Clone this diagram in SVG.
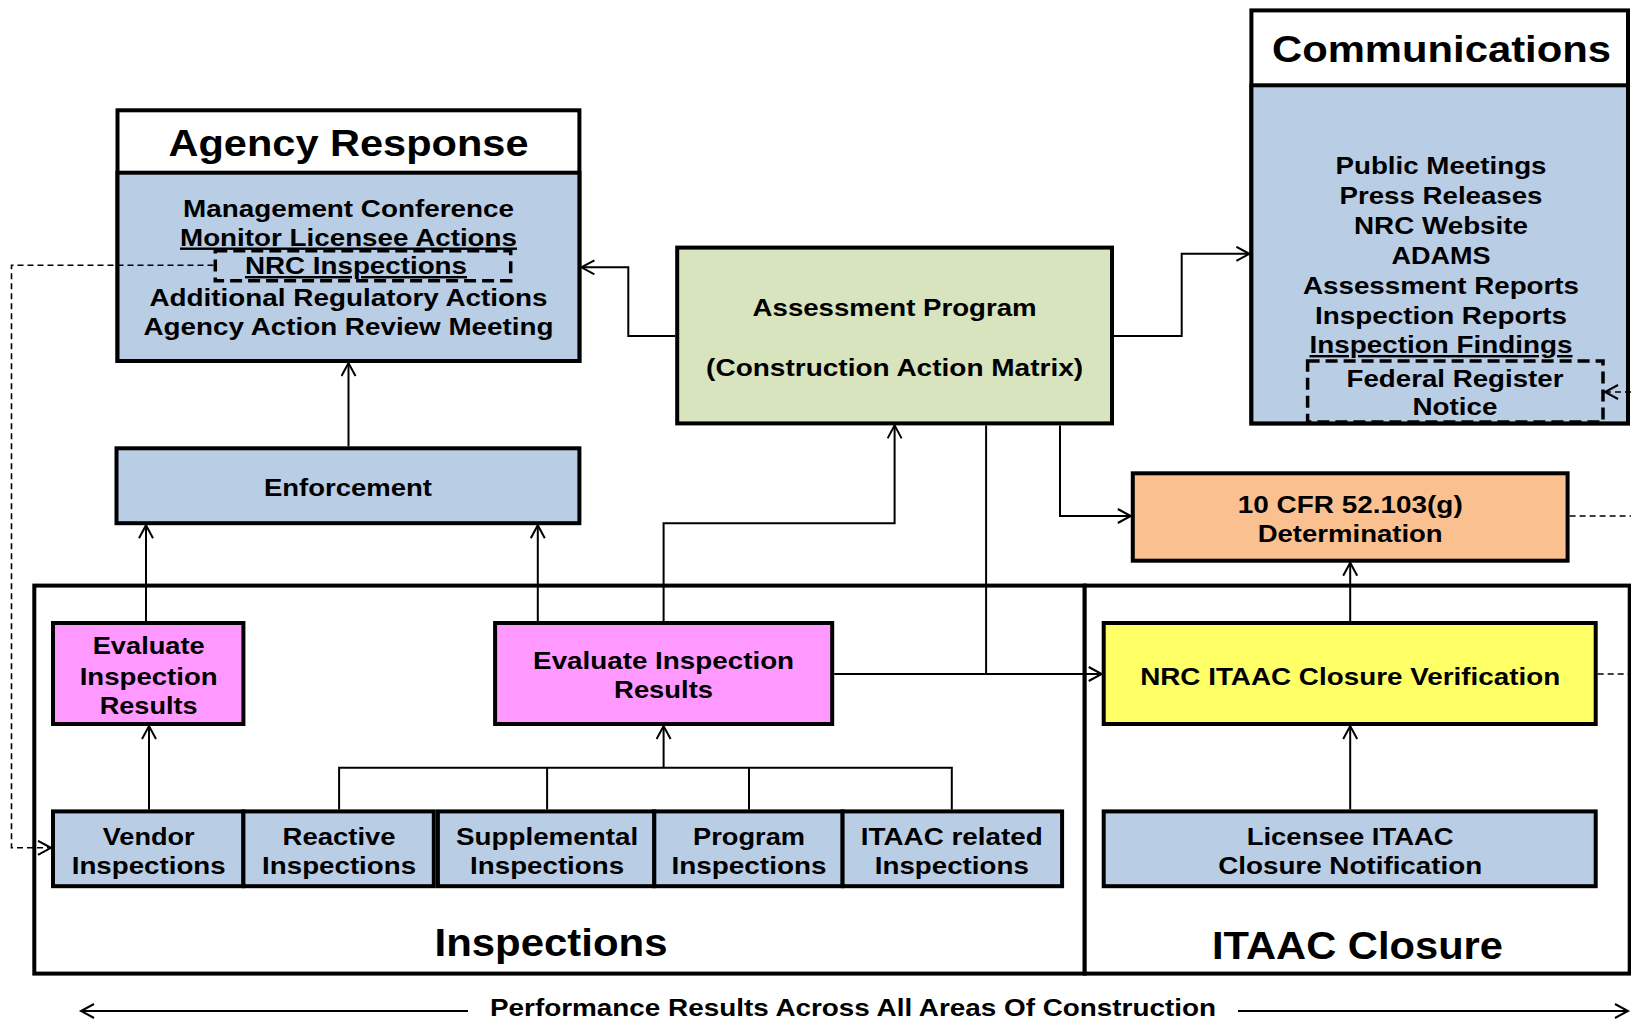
<svg xmlns="http://www.w3.org/2000/svg" width="1631" height="1021" viewBox="0 0 1631 1021">
<defs>
<style>
.t{font-family:"Liberation Sans",Arial,sans-serif;font-weight:bold;fill:#000;text-anchor:middle;font-size:24px}
.h{font-size:37px}
.big{font-size:38px}
.u{text-decoration:underline}
.box{stroke:#000;stroke-width:4}
.blue{fill:#B9CDE5}
.mag{fill:#FF99FF}
.c{fill:none;stroke:#000;stroke-width:2}
.d{fill:none;stroke:#000;stroke-width:1.6;stroke-dasharray:6 4}
.db{fill:none;stroke:#000;stroke-width:3.5;stroke-dasharray:12 6}
</style>
<marker id="a" markerUnits="userSpaceOnUse" markerWidth="18" markerHeight="18" refX="15" refY="8" orient="auto">
<path d="M2,1 L15,8 L2,15" fill="none" stroke="#000" stroke-width="2"/>
</marker>
</defs>
<rect width="1631" height="1021" fill="#fff"/>

<g id="inspections-area">
<rect x="34.3" y="585.6" width="1050.4" height="388" fill="#fff" class="box"/>
<text class="t big" x="551" y="956" textLength="233" lengthAdjust="spacingAndGlyphs">Inspections</text>
</g>
<g id="itaac-closure-area">
<rect x="1084.7" y="585.6" width="545" height="388" fill="#fff" class="box"/>
<text class="t big" x="1357.5" y="959" textLength="291" lengthAdjust="spacingAndGlyphs">ITAAC Closure</text>
</g>

<g id="agency-response">
<rect x="117.5" y="110.3" width="461.9" height="250.7" fill="#fff" class="box"/>
<rect x="117.5" y="172.7" width="461.9" height="188.3" class="box blue"/>
<text class="t h" x="348.5" y="156" textLength="360" lengthAdjust="spacingAndGlyphs">Agency Response</text>
<text class="t" x="348.5" y="216.5" textLength="331" lengthAdjust="spacingAndGlyphs">Management Conference</text>
<text class="t u" x="348.5" y="245.5" textLength="337" lengthAdjust="spacingAndGlyphs">Monitor Licensee Actions</text>
<rect x="215.3" y="250.7" width="295.4" height="30" fill="none" class="db"/>
<text class="t u" x="356" y="274" textLength="222" lengthAdjust="spacingAndGlyphs">NRC Inspections</text>
<text class="t" x="348.5" y="306" textLength="398" lengthAdjust="spacingAndGlyphs">Additional Regulatory Actions</text>
<text class="t" x="348.5" y="335" textLength="410" lengthAdjust="spacingAndGlyphs">Agency Action Review Meeting</text>
</g>

<g id="assessment-program">
<rect x="677.2" y="247.6" width="434.8" height="175.8" fill="#D7E4BD" class="box"/>
<text class="t" x="894.6" y="316" textLength="284" lengthAdjust="spacingAndGlyphs">Assessment Program</text>
<text class="t" x="894.6" y="376" textLength="377" lengthAdjust="spacingAndGlyphs">(Construction Action Matrix)</text>
</g>

<g id="communications">
<rect x="1251.4" y="10.4" width="376.6" height="413" fill="#fff" class="box"/>
<rect x="1251.4" y="85.3" width="376.6" height="338.1" class="box blue"/>
<text class="t h" x="1441.5" y="61.7" textLength="339" lengthAdjust="spacingAndGlyphs">Communications</text>
<text class="t" x="1441" y="174" textLength="211" lengthAdjust="spacingAndGlyphs">Public Meetings</text>
<text class="t" x="1441" y="204" textLength="203" lengthAdjust="spacingAndGlyphs">Press Releases</text>
<text class="t" x="1441" y="234" textLength="174" lengthAdjust="spacingAndGlyphs">NRC Website</text>
<text class="t" x="1441" y="264" textLength="99" lengthAdjust="spacingAndGlyphs">ADAMS</text>
<text class="t" x="1441" y="294" textLength="276" lengthAdjust="spacingAndGlyphs">Assessment Reports</text>
<text class="t" x="1441" y="324" textLength="252" lengthAdjust="spacingAndGlyphs">Inspection Reports</text>
<text class="t u" x="1441" y="353" textLength="263" lengthAdjust="spacingAndGlyphs">Inspection Findings</text>
<rect x="1307.6" y="361" width="295.4" height="61" fill="none" class="db"/>
<text class="t" x="1455" y="387" textLength="217" lengthAdjust="spacingAndGlyphs">Federal Register</text>
<text class="t" x="1455" y="415" textLength="85" lengthAdjust="spacingAndGlyphs">Notice</text>
</g>

<g id="enforcement">
<rect x="116.5" y="448.3" width="462.9" height="74.9" class="box blue"/>
<text class="t" x="348" y="496" textLength="168" lengthAdjust="spacingAndGlyphs">Enforcement</text>
</g>

<g id="cfr-determination">
<rect x="1132.8" y="473.3" width="434.8" height="87.4" fill="#FAC090" class="box"/>
<text class="t" x="1350.2" y="513" textLength="225" lengthAdjust="spacingAndGlyphs">10 CFR 52.103(g)</text>
<text class="t" x="1350.2" y="542" textLength="185" lengthAdjust="spacingAndGlyphs">Determination</text>
</g>

<g id="evaluate-left">
<rect x="53" y="623" width="190.4" height="101" class="box mag"/>
<text class="t" x="148.7" y="654.3" textLength="112" lengthAdjust="spacingAndGlyphs">Evaluate</text>
<text class="t" x="148.7" y="684.5" textLength="138" lengthAdjust="spacingAndGlyphs">Inspection</text>
<text class="t" x="148.7" y="713.6" textLength="98" lengthAdjust="spacingAndGlyphs">Results</text>
</g>

<g id="evaluate-mid">
<rect x="495.1" y="623" width="337.1" height="101" class="box mag"/>
<text class="t" x="663.6" y="669" textLength="261" lengthAdjust="spacingAndGlyphs">Evaluate Inspection</text>
<text class="t" x="663.6" y="698" textLength="99" lengthAdjust="spacingAndGlyphs">Results</text>
</g>

<g id="nrc-itaac-verification">
<rect x="1103.7" y="623" width="492" height="101" fill="#FFFF66" class="box"/>
<text class="t" x="1350.2" y="684.5" textLength="420" lengthAdjust="spacingAndGlyphs">NRC ITAAC Closure Verification</text>
</g>

<g id="vendor-inspections">
<rect x="53" y="811.4" width="190.4" height="74.8" class="box blue"/>
<text class="t" x="148.7" y="844.6" textLength="92" lengthAdjust="spacingAndGlyphs">Vendor</text>
<text class="t" x="148.7" y="873.8" textLength="154" lengthAdjust="spacingAndGlyphs">Inspections</text>
</g>
<g id="reactive-inspections">
<rect x="243.4" y="811.4" width="190.4" height="74.8" class="box blue"/>
<text class="t" x="339.1" y="844.6" textLength="113" lengthAdjust="spacingAndGlyphs">Reactive</text>
<text class="t" x="339.1" y="873.8" textLength="154" lengthAdjust="spacingAndGlyphs">Inspections</text>
</g>
<g id="supplemental-inspections">
<rect x="437.9" y="811.4" width="216.4" height="74.8" class="box blue"/>
<text class="t" x="547.1" y="844.6" textLength="182" lengthAdjust="spacingAndGlyphs">Supplemental</text>
<text class="t" x="547.1" y="873.8" textLength="154" lengthAdjust="spacingAndGlyphs">Inspections</text>
</g>
<g id="program-inspections">
<rect x="654.3" y="811.4" width="188.3" height="74.8" class="box blue"/>
<text class="t" x="749" y="844.6" textLength="112" lengthAdjust="spacingAndGlyphs">Program</text>
<text class="t" x="749" y="873.8" textLength="155" lengthAdjust="spacingAndGlyphs">Inspections</text>
</g>
<g id="itaac-related-inspections">
<rect x="842.6" y="811.4" width="219.5" height="74.8" class="box blue"/>
<text class="t" x="951.8" y="844.6" textLength="182" lengthAdjust="spacingAndGlyphs">ITAAC related</text>
<text class="t" x="951.8" y="873.8" textLength="154" lengthAdjust="spacingAndGlyphs">Inspections</text>
</g>
<g id="licensee-itaac-notification">
<rect x="1103.7" y="811.4" width="492" height="74.8" class="box blue"/>
<text class="t" x="1350.2" y="844.6" textLength="207" lengthAdjust="spacingAndGlyphs">Licensee ITAAC</text>
<text class="t" x="1350.2" y="873.8" textLength="264" lengthAdjust="spacingAndGlyphs">Closure Notification</text>
</g>

<g id="performance-label">
<text class="t" x="853" y="1016" font-size="23" textLength="726" lengthAdjust="spacingAndGlyphs">Performance Results Across All Areas Of Construction</text>
</g>

<g id="connectors">
<line class="c" x1="348.5" y1="446.3" x2="348.5" y2="363" marker-end="url(#a)"/>
<line class="c" x1="146" y1="621" x2="146" y2="525.2" marker-end="url(#a)"/>
<line class="c" x1="537.8" y1="621" x2="537.8" y2="525.2" marker-end="url(#a)"/>
<polyline class="c" points="663.6,621 663.6,523.2 894.6,523.2 894.6,425.4" marker-end="url(#a)"/>
<line class="c" x1="149" y1="809.4" x2="149" y2="726" marker-end="url(#a)"/>
<polyline class="c" points="339.1,809.4 339.1,767.7 951.8,767.7 951.8,809.4"/>
<line class="c" x1="547.1" y1="767.7" x2="547.1" y2="809.4"/>
<line class="c" x1="749" y1="767.7" x2="749" y2="809.4"/>
<line class="c" x1="663.6" y1="767.7" x2="663.6" y2="726" marker-end="url(#a)"/>
<line class="c" x1="834.2" y1="674" x2="1101.7" y2="674" marker-end="url(#a)"/>
<line class="c" x1="986.1" y1="425.4" x2="986.1" y2="674"/>
<polyline class="c" points="1060,425.4 1060,516 1130.8,516" marker-end="url(#a)"/>
<polyline class="c" points="675.2,336 628.3,336 628.3,267.3 581.4,267.3" marker-end="url(#a)"/>
<polyline class="c" points="1114,336 1181.7,336 1181.7,253.8 1249.4,253.8" marker-end="url(#a)"/>
<line class="c" x1="1350.2" y1="621" x2="1350.2" y2="562.7" marker-end="url(#a)"/>
<line class="c" x1="1350.2" y1="809.4" x2="1350.2" y2="726" marker-end="url(#a)"/>
<line class="d" x1="1569.6" y1="516" x2="1631" y2="516"/>
<line class="d" x1="1597.7" y1="674" x2="1631" y2="674"/>
<line class="d" x1="1631" y1="392" x2="1605" y2="392" marker-end="url(#a)"/>
<polyline class="d" points="213.5,265.3 11.5,265.3 11.5,847.8 51,847.8" marker-end="url(#a)"/>
<line class="c" x1="468" y1="1011" x2="81" y2="1011" stroke-width="2.5" marker-end="url(#a)"/>
<line class="c" x1="1238" y1="1011" x2="1628" y2="1011" stroke-width="2.5" marker-end="url(#a)"/>
</g>
</svg>
